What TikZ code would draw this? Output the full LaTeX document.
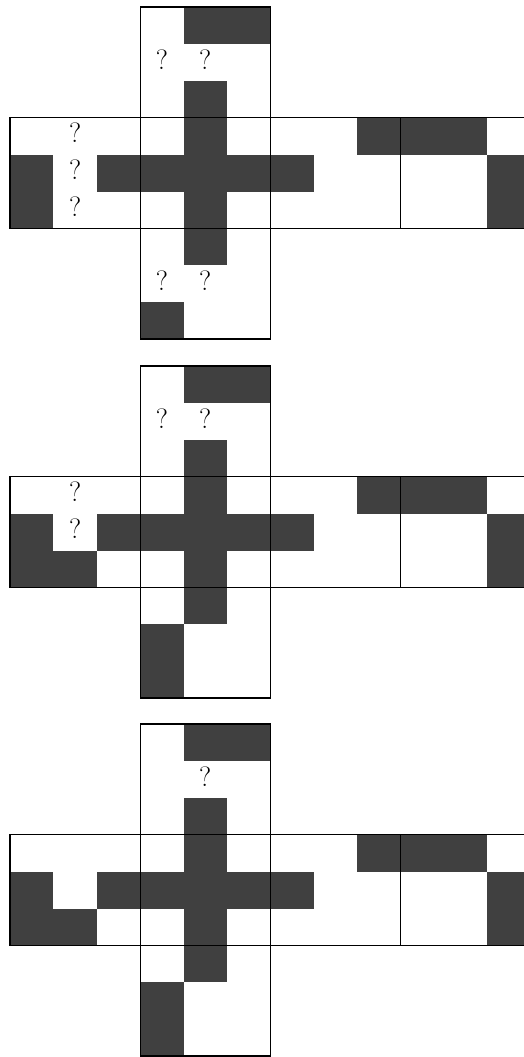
\documentclass[tikz,border=0pt]{standalone}
\definecolor{darkcell}{HTML}{404040}
\tikzset{
  frame/.style={draw=black, line width=1.4pt},
  qm/.style={font=\fontsize{28}{28}\selectfont, inner sep=0pt, text=black}
}
\newcommand\CW{43.4}
\newcommand\CH{36.9}
% dark cell: column, row, top offset
\newcommand\dk[3]{\fill[darkcell] ({10+#1*\CW},{#3+#2*\CH}) rectangle ({10+(#1+1)*\CW},{#3+(#2+1)*\CH});}
\newcommand\netcommon[1]{%
  \foreach \c/\r in {4/0,5/0,4/2,4/3,8/3,9/3,10/3,0/4,2/4,3/4,4/4,5/4,6/4,11/4,0/5,4/5,11/5,4/6,3/8}{\dk{\c}{\r}{#1}}%
}
\newcommand\netframe[1]{%
  \draw[frame] ({10+3*\CW},{#1}) rectangle ({10+6*\CW},{#1+3*\CH});
  \draw[frame] (524,{#1+3*\CH}) -- (10,{#1+3*\CH}) -- (10,{#1+6*\CH}) -- (524,{#1+6*\CH});
  \draw[frame] ({10+3*\CW},{#1+3*\CH}) -- ({10+3*\CW},{#1+6*\CH});
  \draw[frame] ({10+6*\CW},{#1+3*\CH}) -- ({10+6*\CW},{#1+6*\CH});
  \draw[frame] ({10+9*\CW},{#1+3*\CH}) -- ({10+9*\CW},{#1+6*\CH});
  \draw[frame] ({10+3*\CW},{#1+6*\CH}) rectangle ({10+6*\CW},{#1+9*\CH});
}
\newcommand\qpos[3]{({10+(#1+0.5)*\CW},{#3+(#2+0.5)*\CH-3})}
\begin{document}
\begin{tikzpicture}[x=1pt,y=-1pt]
\useasboundingbox (0,0) rectangle (524,1057);
\clip (0,0) rectangle (524,1057);
% ---------- diagram 1 ----------
\netcommon{7}
\netframe{7}
\node[qm] (a1) at \qpos{3}{1}{7} {?};
\node[qm] (a2) at \qpos{4}{1}{7} {?};
\node[qm] (a3) at \qpos{1}{3}{7} {?};
\node[qm] (a4) at \qpos{1}{4}{7} {?};
\node[qm] (a5) at \qpos{1}{5}{7} {?};
\node[qm] (a6) at \qpos{3}{7}{7} {?};
\node[qm] (a7) at \qpos{4}{7}{7} {?};
% ---------- diagram 2 ----------
\netcommon{366}
\dk{1}{5}{366}
\dk{3}{7}{366}
\netframe{366}
\node[qm] (b1) at \qpos{3}{1}{366} {?};
\node[qm] (b2) at \qpos{4}{1}{366} {?};
\node[qm] (b3) at \qpos{1}{3}{366} {?};
\node[qm] (b4) at \qpos{1}{4}{366} {?};
% ---------- diagram 3 ----------
\netcommon{724}
\dk{1}{5}{724}
\dk{3}{7}{724}
\netframe{724}
\node[qm] (c1) at \qpos{4}{1}{724} {?};
\end{tikzpicture}
\end{document}
